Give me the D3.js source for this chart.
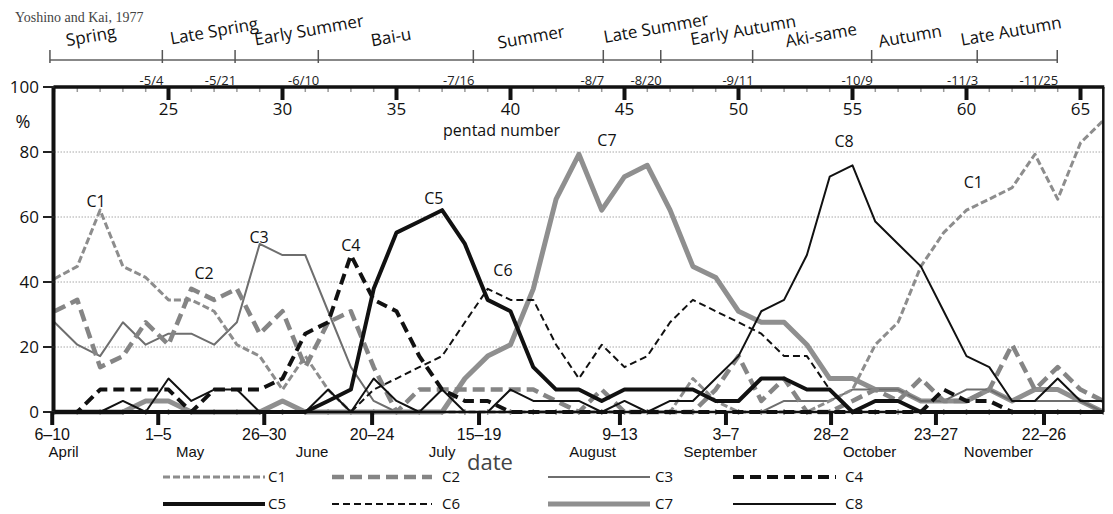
<!DOCTYPE html>
<html>
<head>
<meta charset="utf-8">
<script src="https://cdn.jsdelivr.net/npm/d3@7"></script>
<style>
	body { margin: 0; background: #fff; }
	svg { display: block; }
</style>
</head>
<body>
<svg id="chart" width="1113" height="514"></svg>
<script>
// pentad numbers, 6-10 April .. 22-26 November
var pentads = [20, 21, 22, 23, 24, 25, 26, 27, 28, 29, 30, 31, 32, 33, 34, 35, 36, 37, 38, 39, 40, 41, 42, 43,
	44, 45, 46, 47, 48, 49, 50, 51, 52, 53, 54, 55, 56, 57, 58, 59, 60, 61, 62, 63, 64, 65, 66];

// frequency of each pattern (%) per pentad
var c1 = [41, 44.8, 62.1, 44.8, 41.4, 34.5, 34.5, 31.0, 20.7, 17.2, 6.9, 17.2, 6.9, 0, 0, 0, 0, 0, 0, 0, 0, 0, 0, 0,
	0, 0, 0, 0, 10.3, 3.4, 0, 0, 0, 0, 3.4, 6.9, 20.7, 27.6, 44.8, 55.2, 62.1, 65.5, 69.0, 79.3, 65.5, 82.8, 89.7];
var c2 = [31.0, 34.5, 13.8, 17.2, 27.6, 20.7, 37.9, 34.5, 37.9, 24.1, 31.0, 13.8, 27.6, 31.0, 13.8, 0, 6.9, 6.9, 6.9, 6.9, 6.9, 6.9, 3.4, 0,
	6.9, 0, 0, 0, 0, 6.9, 17.2, 3.4, 10.3, 0, 0, 3.4, 6.9, 3.4, 10.3, 3.4, 3.4, 6.9, 20.7, 6.9, 13.8, 6.9, 3.4];
var c3 = [27.6, 20.7, 17.2, 27.6, 20.7, 24.1, 24.1, 20.7, 27.6, 51.7, 48.3, 48.3, 31.0, 13.8, 3.4, 0, 0, 0, 0, 0, 0, 0, 0, 0,
	0, 0, 0, 0, 0, 0, 0, 0, 3.4, 3.4, 3.4, 6.9, 6.9, 6.9, 3.4, 3.4, 6.9, 6.9, 3.4, 3.4, 3.4, 3.4, 0];
var c4 = [0, 0, 6.9, 6.9, 6.9, 6.9, 0, 6.9, 6.9, 6.9, 10.3, 24.1, 27.6, 48.3, 34.5, 31.0, 17.2, 6.9, 3.4, 3.4, 0, 0, 0, 0,
	0, 0, 0, 0, 0, 0, 0, 0, 0, 0, 0, 0, 0, 0, 0, 6.9, 3.4, 3.4, 0, 0, 0, 0, 0];
var c5 = [0, 0, 0, 0, 0, 0, 0, 0, 0, 0, 0, 0, 3.4, 6.9, 37.9, 55.2, 58.6, 62.1, 51.7, 34.5, 31.0, 13.8, 6.9, 6.9,
	3.4, 6.9, 6.9, 6.9, 6.9, 3.4, 3.4, 10.3, 10.3, 6.9, 6.9, 0, 3.4, 3.4, 0, 0, 0, 0, 0, 0, 0, 0, 0];
var c6 = [0, 0, 0, 0, 0, 0, 0, 0, 0, 0, 0, 0, 0, 0, 6.9, 10.3, 13.8, 17.2, 27.6, 37.9, 34.5, 34.5, 20.7, 10.3,
	20.7, 13.8, 17.2, 27.6, 34.5, 31.0, 27.6, 24.1, 17.2, 17.2, 6.9, 0, 0, 0, 0, 0, 0, 0, 0, 0, 0, 0, 0];
var c7 = [0, 0, 0, 0, 3.4, 3.4, 0, 0, 0, 0, 3.4, 0, 0, 0, 0, 0, 0, 0, 10.3, 17.2, 20.7, 37.9, 65.5, 79.3,
	62.1, 72.4, 75.9, 62.1, 44.8, 41.4, 31.0, 27.6, 27.6, 20.7, 10.3, 10.3, 6.9, 6.9, 3.4, 3.4, 3.4, 6.9, 3.4, 6.9, 6.9, 3.4, 0];
var c8 = [0, 0, 0, 3.4, 0, 10.3, 3.4, 6.9, 6.9, 0, 0, 0, 6.9, 0, 10.3, 3.4, 0, 6.9, 0, 0, 6.9, 3.4, 3.4, 3.4,
	0, 3.4, 0, 3.4, 3.4, 10.3, 17.2, 31.0, 34.5, 48.3, 72.4, 75.9, 58.6, 51.7, 44.8, 31.0, 17.2, 13.8, 3.4, 3.4, 10.3, 3.4, 3.4];

var seriesNames = ["C1", "C2", "C3", "C4", "C5", "C6", "C7", "C8"];
var seriesValues = [c1, c2, c3, c4, c5, c6, c7, c8];

// axis labels
var pentadTicks = [25, 30, 35, 40, 45, 50, 55, 60, 65];
var yTicks = [0, 20, 40, 60, 80, 100];
var dateTicks = ["6\u201310", "1\u20135", "26\u201330", "20\u201324", "15\u201319", "9\u201313", "3\u20137", "28\u20132", "23\u201327", "22\u201326"];
var dateTickPentad = [19.9, 24.55, 29.2, 33.93, 38.62, 44.8, 49.45, 54.06, 58.66, 63.4];
var months = ["April", "May", "June", "July", "August", "September", "October", "November"];
var monthPentad = [20.4, 25.95, 31.3, 37.0, 43.6, 49.2, 55.75, 61.4];

// natural seasons (Yoshino and Kai) and their end dates
var seasons = ["Spring", "Late Spring", "Early Summer", "Bai-u", "Summer", "Late Summer", "Early Autumn", "Aki-same", "Autumn", "Late Autumn"];
var seasonBounds = [19.8, 24.73, 27.92, 31.57, 38.37, 44.07, 46.59, 50.62, 55.84, 60.47, 63.98];
var seasonEnds = ["", "-5/4", "-5/21", "-6/10", "-7/16", "-8/7", "-8/20", "-9/11", "-10/9", "-11/3", "-11/25"];

var svg = d3.select("#chart");
var sans = "'Open Sans', 'DejaVu Sans', sans-serif";
var arial = "'Liberation Sans', Arial, sans-serif";

var x = d3.scaleLinear().domain([20, 66]).range([54.5, 1103.3]);
var y = d3.scaleLinear().domain([0, 100]).range([412, 87]);

var styles = {
	C1: { color: "#8d8d8d", width: 3, dash: "7,3" },
	C2: { color: "#858585", width: 4.5, dash: "12,6" },
	C3: { color: "#6e6e6e", width: 2, dash: null },
	C4: { color: "#111", width: 4, dash: "11,6" },
	C5: { color: "#111", width: 4, dash: null },
	C6: { color: "#111", width: 2, dash: "7,4" },
	C7: { color: "#8f8f8f", width: 5, dash: null },
	C8: { color: "#111", width: 2, dash: null }
};

svg.append("text")
	.attr("x", 15)
	.attr("y", 22)
	.style("font-family", "'Liberation Serif', 'Times New Roman', serif")
	.style("font-size", "14px")
	.style("fill", "#444")
	.text("Yoshino and Kai, 1977");

// season header
var headerY = 60;
svg.append("line")
	.attr("x1", x(seasonBounds[0]))
	.attr("x2", x(seasonBounds[seasonBounds.length - 1]))
	.attr("y1", headerY).attr("y2", headerY)
	.style("stroke", "#888").style("stroke-width", 2);

svg.append("g").selectAll("line")
	.data(seasonBounds)
	.enter()
	.append("line")
	.attr("x1", function(d) { return x(d); })
	.attr("x2", function(d) { return x(d); })
	.attr("y1", headerY - 10).attr("y2", headerY + 3)
	.style("stroke", "#555").style("stroke-width", 1.5);

svg.append("g").selectAll("text")
	.data(seasonEnds)
	.enter()
	.append("text")
	.attr("x", function(d, i) { return x(seasonBounds[i]) + 1; })
	.attr("y", 85)
	.attr("text-anchor", "end")
	.style("font-family", sans)
	.style("font-size", "13px")
	.style("fill", "#222")
	.text(function(d) { return d; });

// label placement along the header (pentad units, pixel row)
var seasonLabelAt = [[21.6, 36], [27.0, 31], [31.16, 30], [34.76, 37], [40.9, 37], [46.38, 28], [50.2, 30], [53.62, 35], [57.52, 36], [61.95, 31]];
svg.append("g").selectAll("text")
	.data(seasons)
	.enter()
	.append("text")
	.attr("transform", function(d, i) {
		return "translate(" + x(seasonLabelAt[i][0]) + "," + seasonLabelAt[i][1] + ") rotate(-10)";
	})
	.attr("dy", "0.35em")
	.attr("text-anchor", "middle")
	.style("font-family", sans)
	.style("font-size", "17px")
	.style("fill", "#111")
	.text(function(d) { return d; });

// grid
svg.append("g").selectAll("line")
	.data([20, 40, 60, 80])
	.enter()
	.append("line")
	.attr("x1", x(20)).attr("x2", x(66))
	.attr("y1", function(d) { return y(d); })
	.attr("y2", function(d) { return y(d); })
	.style("stroke", "#a8a8a8").style("stroke-width", 1)
	.style("stroke-dasharray", "1.5,1.5");

// minor pentad ticks on top and bottom frame
svg.append("g").selectAll("line")
	.data(pentads)
	.enter()
	.append("line")
	.attr("x1", function(d) { return x(d); })
	.attr("x2", function(d) { return x(d); })
	.attr("y1", y(100) + 1).attr("y2", y(100) + 5)
	.style("stroke", "#999").style("stroke-width", 1.5);

svg.append("g").selectAll("line")
	.data(pentads)
	.enter()
	.append("line")
	.attr("x1", function(d) { return x(d); })
	.attr("x2", function(d) { return x(d); })
	.attr("y1", y(0) - 3).attr("y2", y(0) + 3)
	.style("stroke", "#999").style("stroke-width", 1.5);

// series
var line = d3.line()
	.x(function(d) { return x(d.p); })
	.y(function(d) { return y(d.v); });

var drawOrder = ["C7", "C3", "C1", "C2", "C6", "C8", "C4", "C5"];
svg.append("g").selectAll("path")
	.data(drawOrder)
	.enter()
	.append("path")
	.attr("d", function(name) {
		var vals = seriesValues[seriesNames.indexOf(name)];
		return line(pentads.map(function(p, i) { return { p: p, v: vals[i] }; }));
	})
	.style("fill", "none")
	.style("stroke", function(name) { return styles[name].color; })
	.style("stroke-width", function(name) { return styles[name].width; })
	.style("stroke-dasharray", function(name) { return styles[name].dash; })
	.style("stroke-linejoin", "round");

// frame
var frame = svg.append("g").style("stroke", "#111");
frame.append("line").attr("x1", x(20) - 1).attr("x2", x(66) + 1).attr("y1", y(100)).attr("y2", y(100)).style("stroke-width", 3.5);
frame.append("line").attr("x1", x(20) - 1).attr("x2", x(66)).attr("y1", y(0)).attr("y2", y(0)).style("stroke-width", 2.5);
frame.append("line").attr("x1", x(20) - 1).attr("x2", x(20) - 1).attr("y1", y(100) - 1).attr("y2", y(0) + 1).style("stroke-width", 4);
frame.append("line").attr("x1", x(66)).attr("x2", x(66)).attr("y1", y(100)).attr("y2", y(0)).style("stroke-width", 2.5);

// y axis
svg.append("g").selectAll("line")
	.data(yTicks)
	.enter()
	.append("line")
	.attr("x1", 43).attr("x2", x(20))
	.attr("y1", function(d) { return y(d); })
	.attr("y2", function(d) { return y(d); })
	.style("stroke", "#222").style("stroke-width", 2);

svg.append("g").selectAll("text")
	.data(yTicks)
	.enter()
	.append("text")
	.attr("x", 39)
	.attr("y", function(d) { return y(d); })
	.attr("dy", "0.36em")
	.attr("text-anchor", "end")
	.style("font-family", sans)
	.style("font-size", "17px")
	.style("fill", "#111")
	.text(function(d) { return d; });

svg.append("text")
	.attr("x", 23).attr("y", 122).attr("dy", "0.35em")
	.attr("text-anchor", "middle")
	.style("font-family", sans).style("font-size", "18px").style("fill", "#111")
	.text("%");

// pentad number axis, inside the top of the frame
svg.append("g").selectAll("line")
	.data(pentadTicks)
	.enter()
	.append("line")
	.attr("x1", function(d) { return x(d); })
	.attr("x2", function(d) { return x(d); })
	.attr("y1", y(100)).attr("y2", y(100) + 13)
	.style("stroke", "#111").style("stroke-width", 4);

svg.append("g").selectAll("text")
	.data(pentadTicks)
	.enter()
	.append("text")
	.attr("x", function(d) { return x(d); })
	.attr("y", 109)
	.attr("dy", "0.35em")
	.attr("text-anchor", "middle")
	.style("font-family", sans)
	.style("font-size", "17px")
	.style("fill", "#111")
	.text(function(d) { return d; });

svg.append("text")
	.attr("x", x(40) - 9).attr("y", 130).attr("dy", "0.35em")
	.attr("text-anchor", "middle")
	.style("font-family", sans).style("font-size", "16px").style("fill", "#111")
	.text("pentad number");

// date axis below the frame
svg.append("g").selectAll("line")
	.data(dateTickPentad)
	.enter()
	.append("line")
	.attr("x1", function(d) { return x(d); })
	.attr("x2", function(d) { return x(d); })
	.attr("y1", y(0)).attr("y2", y(0) + 13)
	.style("stroke", "#111").style("stroke-width", 4);

svg.append("g").selectAll("text")
	.data(dateTicks)
	.enter()
	.append("text")
	.attr("x", function(d, i) { return x(dateTickPentad[i]); })
	.attr("y", 434)
	.attr("dy", "0.35em")
	.attr("text-anchor", "middle")
	.style("font-family", arial)
	.style("font-size", "16px")
	.style("fill", "#111")
	.text(function(d) { return d; });

svg.append("g").selectAll("text")
	.data(months)
	.enter()
	.append("text")
	.attr("x", function(d, i) { return x(monthPentad[i]); })
	.attr("y", 452)
	.attr("dy", "0.35em")
	.attr("text-anchor", "middle")
	.style("font-family", arial)
	.style("font-size", "15px")
	.style("fill", "#111")
	.text(function(d) { return d; });

svg.append("text")
	.attr("x", 490).attr("y", 462).attr("dy", "0.35em")
	.attr("text-anchor", "middle")
	.style("font-family", sans).style("font-size", "22px").style("fill", "#444")
	.text("date");

// pattern names placed next to their peaks (pentad, %)
var labelAt = [["C1", 21.82, 64.9], ["C2", 26.56, 42.5], ["C3", 28.97, 53.8], ["C4", 33.0, 51.4], ["C5", 36.64, 65.8],
	["C6", 39.67, 43.7], ["C7", 44.23, 83.7], ["C8", 54.63, 83.4], ["C1", 60.3, 70.8]];
svg.append("g").selectAll("text")
	.data(labelAt)
	.enter()
	.append("text")
	.attr("x", function(d) { return x(d[1]); })
	.attr("y", function(d) { return y(d[2]); })
	.attr("dy", "0.35em")
	.attr("text-anchor", "middle")
	.style("font-family", sans)
	.style("font-size", "16px")
	.style("fill", "#111")
	.text(function(d) { return d[0]; });

// legend, two rows of four
var legendX = [163, 332, 548, 733];
var legendLen = [102, 100, 102, 103];
var legendLabelX = [268, 442, 655, 845];
var legend = svg.append("g")
	.selectAll("g")
	.data(seriesNames)
	.enter()
	.append("g")
	.attr("transform", function(d, i) {
		return "translate(0," + (477 + Math.floor(i / 4) * 27) + ")";
	});

legend.append("line")
	.attr("x1", function(d, i) { return legendX[i % 4]; })
	.attr("x2", function(d, i) { return legendX[i % 4] + legendLen[i % 4]; })
	.attr("y1", 0).attr("y2", 0)
	.style("stroke", function(d) { return styles[d].color; })
	.style("stroke-width", function(d) { return styles[d].width; })
	.style("stroke-dasharray", function(d) { return styles[d].dash; });

legend.append("text")
	.attr("x", function(d, i) { return legendLabelX[i % 4]; })
	.attr("y", 0)
	.attr("dy", "0.35em")
	.style("font-family", sans)
	.style("font-size", "15px")
	.style("fill", "#111")
	.text(function(d) { return d; });
</script>
</body>
</html>
